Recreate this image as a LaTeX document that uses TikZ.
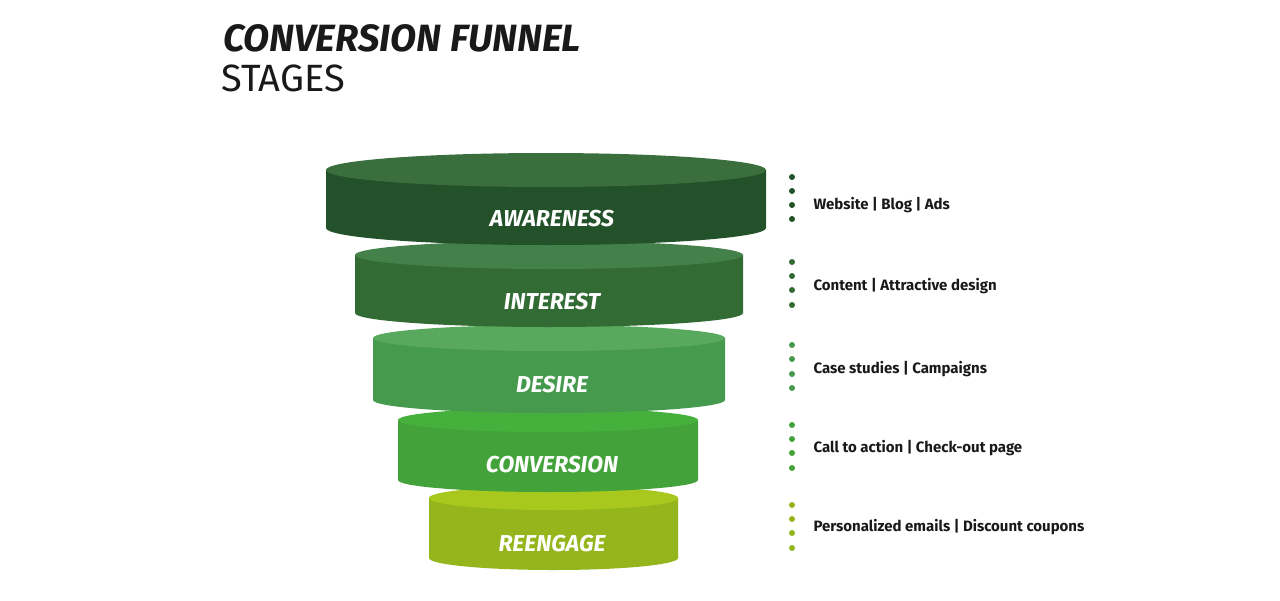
\documentclass[tikz,border=0pt]{standalone}
\usepackage{fontspec}
\setmainfont{Fira Sans}
\begin{document}
\begin{tikzpicture}[x=1pt,y=-1pt,
  stage/.style={font=\fontsize{23}{23}\selectfont\bfseries\itshape,text=white},
  lab/.style={font=\fontsize{15}{15}\selectfont\fontseries{sb}\selectfont,anchor=west,text=black!90},
  dot/.style={circle,inner sep=0pt,minimum size=6pt}]
\useasboundingbox (0,0) rectangle (1280,600);
\fill[white] (0,0) rectangle (1280,600);
\definecolor{sA}{HTML}{22512A}\definecolor{tA}{HTML}{3A6E3C}
\definecolor{sB}{HTML}{336B35}\definecolor{tB}{HTML}{43804A}
\definecolor{sC}{HTML}{469A4E}\definecolor{tC}{HTML}{58A85E}
\definecolor{sD}{HTML}{43A33A}\definecolor{tD}{HTML}{46B03C}
\definecolor{sE}{HTML}{94B61C}\definecolor{tE}{HTML}{A8C81E}
\newcommand{\cyl}[7]{% xl xr ytop ybot ry side top
  \fill[#6] (#1,#3) -- (#1,#4) arc[start angle=180,end angle=360,x radius={(#2-#1)/2},y radius=-#5] -- (#2,#3) -- cycle;
  \fill[#7] ({(#1+#2)/2},#3) ellipse[x radius={(#2-#1)/2},y radius=#5];}
\cyl{429}{678}{498}{558}{12}{sE}{tE}
\cyl{398}{698}{420}{480}{12}{sD}{tD}
\cyl{373}{725}{338}{400}{13}{sC}{tC}
\cyl{355}{743}{255}{313}{14}{sB}{tB}
\cyl{326}{766}{170}{228}{17}{sA}{tA}
\node[stage] (a) at (552,219) {AWARENESS};
\node[stage] (b) at (552,302) {INTEREST};
\node[stage] (c) at (552,385) {DESIRE};
\node[stage] (d) at (552,465) {CONVERSION};
\node[stage] (e) at (552,544) {REENGAGE};
\node[font=\fontsize{38}{38}\selectfont\bfseries\itshape,anchor=north west,inner sep=0pt,text=black!90] (t1) at (223,24) {CONVERSION FUNNEL};
\node[font=\fontsize{38}{38}\selectfont,anchor=north west,inner sep=0pt,text=black!90] (t2) at (221,65) {STAGES};
\foreach \y/\c in {177/sA,191/sA,205/sA,219/sA,262/sB,276/sB,290/sB,305/sB,345/sC,359/sC,374/sC,388/sC,425/sD,439/sD,453/sD,468/sD,505/sE,519/sE,533/sE,548/sE}
  \node[dot,fill=\c] at (792,\y) {};
\node[lab] (la) at (810,205) {Website | Blog | Ads};
\node[lab] (lb) at (810,286) {Content | Attractive design};
\node[lab] (lc) at (810,369) {Case studies | Campaigns};
\node[lab] (ld) at (810,448) {Call to action | Check-out page};
\node[lab] (le) at (810,527) {Personalized emails | Discount coupons};
\end{tikzpicture}
\end{document}
